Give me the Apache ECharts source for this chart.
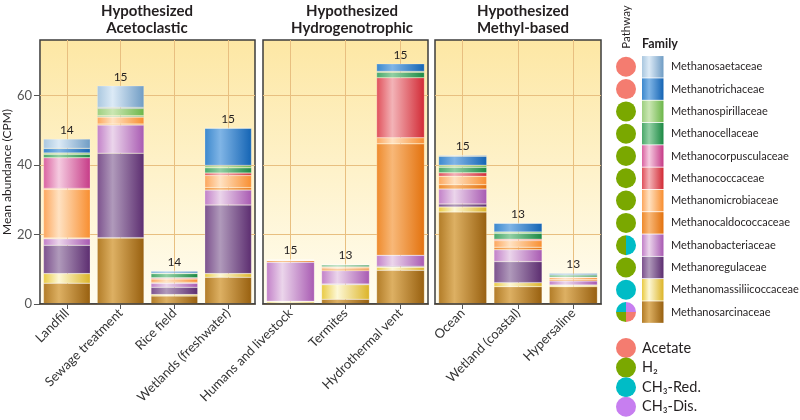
<!DOCTYPE html>
<html><head><meta charset="utf-8">
<script src="https://cdn.jsdelivr.net/npm/echarts@6/dist/echarts.min.js"></script>
<style>html,body{margin:0;padding:0;background:#fff}#c{width:800px;height:420px}</style>
</head><body><div id="c"></div>
<script>
// ---------------- DATA ----------------
const panelTitles = ['Hypothesized\nAcetoclastic', 'Hypothesized\nHydrogenotrophic', 'Hypothesized\nMethyl-based'];
const panelEnvironments = [
  ['Landfill', 'Sewage treatment', 'Rice field', 'Wetlands (freshwater)'],
  ['Humans and livestock', 'Termites', 'Hydrothermal vent'],
  ['Ocean', 'Wetland (coastal)', 'Hypersaline']
];
const sampleCounts = [14, 15, 14, 15, 15, 13, 15, 15, 13, 13];
const yTickValues = [0, 20, 40, 60];
const yMax = 76;

// families in legend order (top to bottom); stacking is bottom-up = reversed
const families = ['Methanosaetaceae', 'Methanotrichaceae', 'Methanospirillaceae', 'Methanocellaceae',
  'Methanocorpusculaceae', 'Methanococcaceae', 'Methanomicrobiaceae', 'Methanocaldococcaceae',
  'Methanobacteriaceae', 'Methanoregulaceae', 'Methanomassiliicoccaceae', 'Methanosarcinaceae'];
const familyPathways = [['Acetate'], ['Acetate'], ['H2'], ['H2'], ['H2'], ['H2'], ['H2'], ['H2'],
  ['H2', 'CH3-Red'], ['H2'], ['CH3-Red'], ['CH3-Red', 'CH3-Dis', 'Acetate', 'H2']];
const pathways = ['Acetate', 'H2', 'CH3-Red', 'CH3-Dis'];
const pathwayLabels = ['Acetate', 'H₂', 'CH₃-Red.', 'CH₃-Dis.'];

// mean abundance (CPM) per environment, in panel order (10 environments)
const methanosaetaceae      = [2.7, 6.2, 0.1, 0.05, 0.1, 0, 0, 0.3, 0.05, 0];
const methanotrichaceae     = [1.3, 0.3, 0.5, 10.7, 0, 0.05, 2.2, 2.6, 2.5, 0.35];
const methanospirillaceae   = [0.4, 2.1, 0.2, 0.7, 0.1, 0.2, 0.2, 0.6, 0.4, 0.05];
const methanocellaceae      = [1.0, 0.3, 1.2, 1.5, 0.05, 0.5, 1.6, 1.6, 1.7, 0.6];
const methanocorpusculaceae = [8.8, 0, 0.05, 0, 0, 0, 0, 0, 0, 0];
const methanococcaceae      = [0.3, 0.1, 0.3, 0.7, 0, 0.1, 17.3, 1.0, 0.4, 0.1];
const methanomicrobiaceae   = [14.0, 2.0, 0.95, 3.5, 0.1, 0.5, 1.75, 2.4, 1.9, 0.6];
const methanocaldococcaceae = [0.25, 0.3, 0.3, 0.7, 0.4, 0.5, 32.1, 1.25, 0.75, 0.4];
const methanobacteriaceae   = [1.85, 8.1, 1.15, 4.3, 11.25, 3.85, 3.15, 4.3, 3.4, 1.15];
const methanoregulaceae     = [8.15, 24.3, 2.1, 19.75, 0.1, 0.2, 0.3, 0.85, 6.05, 0.1];
const methanomassiliicoccaceae = [2.75, 0.1, 0.4, 1.05, 0.4, 4.2, 0.85, 1.45, 1.15, 0.4];
const methanosarcinaceae    = [6.0, 19.0, 2.3, 7.7, 0.3, 1.35, 9.7, 26.5, 5.0, 5.0];

const familyValues = [methanosaetaceae, methanotrichaceae, methanospirillaceae, methanocellaceae,
  methanocorpusculaceae, methanococcaceae, methanomicrobiaceae, methanocaldococcaceae,
  methanobacteriaceae, methanoregulaceae, methanomassiliicoccaceae, methanosarcinaceae];

// ---------------- STYLE ----------------
const familyColors = [
  ['#a9c7df', '#dceaf6', '#6f9cc4'],
  ['#3c88cd', '#80b5e6', '#1464b4'],
  ['#9dcf80', '#cbe7b3', '#6cb64a'],
  ['#4aa86a', '#92d0a4', '#1c8944'],
  ['#da62a0', '#f5cbe0', '#c63b87'],
  ['#e0505a', '#f3b3b7', '#d22a35'],
  ['#fca65c', '#ffe2c2', '#f88e30'],
  ['#ee8a2c', '#f8b878', '#e3720e'],
  ['#c280c8', '#ebd5eb', '#a85ab2'],
  ['#7c518d', '#b09abb', '#5c2d70'],
  ['#e9ca42', '#fdf8d6', '#dcb428'],
  ['#b27c27', '#ddb063', '#98600f']
];
const pathwayColors = { 'Acetate': '#f47c70', 'H2': '#7aa800', 'CH3-Red': '#00bcc6', 'CH3-Dis': '#c77ef0' };
const FONT = 'Lato, "Open Sans", sans-serif';
const TXT = '#231f20';

const grids = [
  { left: 39, top: 40, width: 216, height: 264 },
  { left: 263, top: 40, width: 165, height: 264 },
  { left: 435, top: 40, width: 166, height: 264 }
];
const titleCenters = [147, 352, 523];

function grad(c) {
  return { type: 'linear', x: 0, y: 0, x2: 1, y2: 0,
    colorStops: [{ offset: 0, color: c[0] }, { offset: 0.33, color: c[1] }, { offset: 1, color: c[2] }] };
}

// ---------------- OPTION ----------------
const gridOpt = [], xAxes = [], yAxes = [], series = [];
let offset = 0;
panelEnvironments.forEach((envs, p) => {
  const n = envs.length;
  const g = grids[p];
  gridOpt.push(Object.assign({}, g, {
    show: true, borderColor: '#3d3d3d', borderWidth: 1.5,
    backgroundColor: { type: 'linear', x: 0, y: 0, x2: 0, y2: 1,
      colorStops: [{ offset: 0, color: '#fde7a4' }, { offset: 1, color: '#fffdf1' }] }
  }));
  // main category axis
  xAxes.push({
    type: 'category', gridIndex: p, data: envs, z: 5,
    axisLine: { show: true, lineStyle: { color: '#3d3d3d', width: 1.5 } },
    axisTick: { show: true, alignWithLabel: true, length: 5, lineStyle: { color: '#555' } },
    axisLabel: { rotate: 45, margin: 7, fontFamily: FONT, fontSize: 13, color: '#333', interval: 0 },
    splitLine: { show: false }
  });
  // helper axis for vertical grid lines through bar centres
  const helper = [];
  for (let k = 0; k < 2 * n + 1; k++) helper.push('h' + k);
  xAxes.push({
    type: 'category', gridIndex: p, data: helper, boundaryGap: false, position: 'bottom',
    axisLine: { show: false }, axisTick: { show: false }, axisLabel: { show: false },
    splitLine: { show: true, interval: (i) => i % 2 === 1, lineStyle: { color: '#e8bf80', width: 1 } }
  });
  yAxes.push({
    type: 'value', gridIndex: p, min: 0, max: yMax, interval: 10,
    name: p === 0 ? 'Mean abundance (CPM)' : '', nameLocation: 'middle', nameGap: 22,
    nameTextStyle: { fontFamily: FONT, fontSize: 12, color: TXT },
    axisLine: { show: false },
    axisTick: { show: p === 0, customValues: yTickValues, length: 6, lineStyle: { color: '#555' } },
    axisLabel: { show: p === 0, customValues: yTickValues, margin: 8, fontFamily: FONT, fontSize: 13, color: '#555' },
    splitLine: { show: true, lineStyle: { color: '#e8bf80', width: 1 } }
  });
  // stacked family bars, bottom-up
  for (let f = families.length - 1; f >= 0; f--) {
    const vals = familyValues[f].slice(offset, offset + n).map(v => (v > 0 ? v : '-'));
    series.push({
      name: families[f], type: 'bar', xAxisIndex: 2 * p, yAxisIndex: p, stack: 'panel' + p,
      data: vals, barCategoryGap: '13%', barGap: '-100%',
      itemStyle: { color: grad(familyColors[f]), borderColor: 'rgba(255,255,255,0.45)', borderWidth: 0.5 },
      emphasis: { disabled: true }, silent: true
    });
  }
  // totals (invisible) carrying sample-count labels
  const totals = envs.map((e, i) => +familyValues.reduce((s, arr) => s + arr[offset + i], 0).toFixed(2));
  const counts = sampleCounts.slice(offset, offset + n);
  series.push({
    type: 'bar', xAxisIndex: 2 * p, yAxisIndex: p, data: totals,
    barCategoryGap: '13%', barGap: '-100%',
    itemStyle: { color: 'rgba(0,0,0,0)' }, silent: true, emphasis: { disabled: true },
    label: { show: true, position: 'top', distance: 3, fontFamily: FONT, fontSize: 12, color: TXT,
      formatter: (prm) => String(counts[prm.dataIndex]) }
  });
  offset += n;
});

// ---------------- GRAPHICS: titles & legend ----------------
const graphics = [];
panelTitles.forEach((t, p) => {
  graphics.push({ type: 'text', x: titleCenters[p], y: 3,
    style: { text: t, font: 'bold 15px ' + FONT, fill: TXT, textAlign: 'center', lineHeight: 17 } });
});
const legX = 626, rowH = 22.3, row0 = 66.8, R = 10;
graphics.push({ type: 'text', x: legX, y: 27, rotation: Math.PI / 2,
  style: { text: 'Pathway', font: '11.5px ' + FONT, fill: TXT, textAlign: 'center', textVerticalAlign: 'middle' } });
graphics.push({ type: 'text', x: 642, y: 37, style: { text: 'Family', font: 'bold 12.5px ' + FONT, fill: TXT } });
families.forEach((fam, i) => {
  const cy = row0 + i * rowH;
  const pw = familyPathways[i];
  const m = pw.length;
  if (m === 1) {
    graphics.push({ type: 'circle', shape: { cx: legX, cy: cy, r: R }, style: { fill: pathwayColors[pw[0]] } });
  } else {
    const start = m === 2 ? Math.PI / 2 : Math.PI;
    pw.forEach((pk, j) => {
      graphics.push({ type: 'sector', shape: { cx: legX, cy: cy, r0: 0, r: R,
        startAngle: start + j * 2 * Math.PI / m, endAngle: start + (j + 1) * 2 * Math.PI / m, clockwise: true },
        style: { fill: pathwayColors[pk] } });
    });
  }
  graphics.push({ type: 'rect', shape: { x: 642, y: cy - rowH / 2 + 0.4, width: 21.5, height: rowH - 0.8 },
    style: { fill: grad(familyColors[i]) } });
  graphics.push({ type: 'text', x: 671, y: cy, style: { text: fam, font: '11px ' + FONT, fill: TXT, textVerticalAlign: 'middle' } });
});
const pw0 = 348, pwH = 19.6;
pathways.forEach((pk, i) => {
  const cy = pw0 + i * pwH;
  graphics.push({ type: 'circle', shape: { cx: legX, cy: cy, r: R }, style: { fill: pathwayColors[pk] } });
  graphics.push({ type: 'text', x: 642, y: cy, style: { text: pathwayLabels[i], font: '14.5px ' + FONT, fill: TXT, textVerticalAlign: 'middle' } });
});

const chart = echarts.init(document.getElementById('c'), null, { renderer: 'canvas' });
chart.setOption({
  animation: false,
  backgroundColor: '#ffffff',
  grid: gridOpt,
  xAxis: xAxes,
  yAxis: yAxes,
  series: series,
  graphic: graphics
});
</script></body></html>
